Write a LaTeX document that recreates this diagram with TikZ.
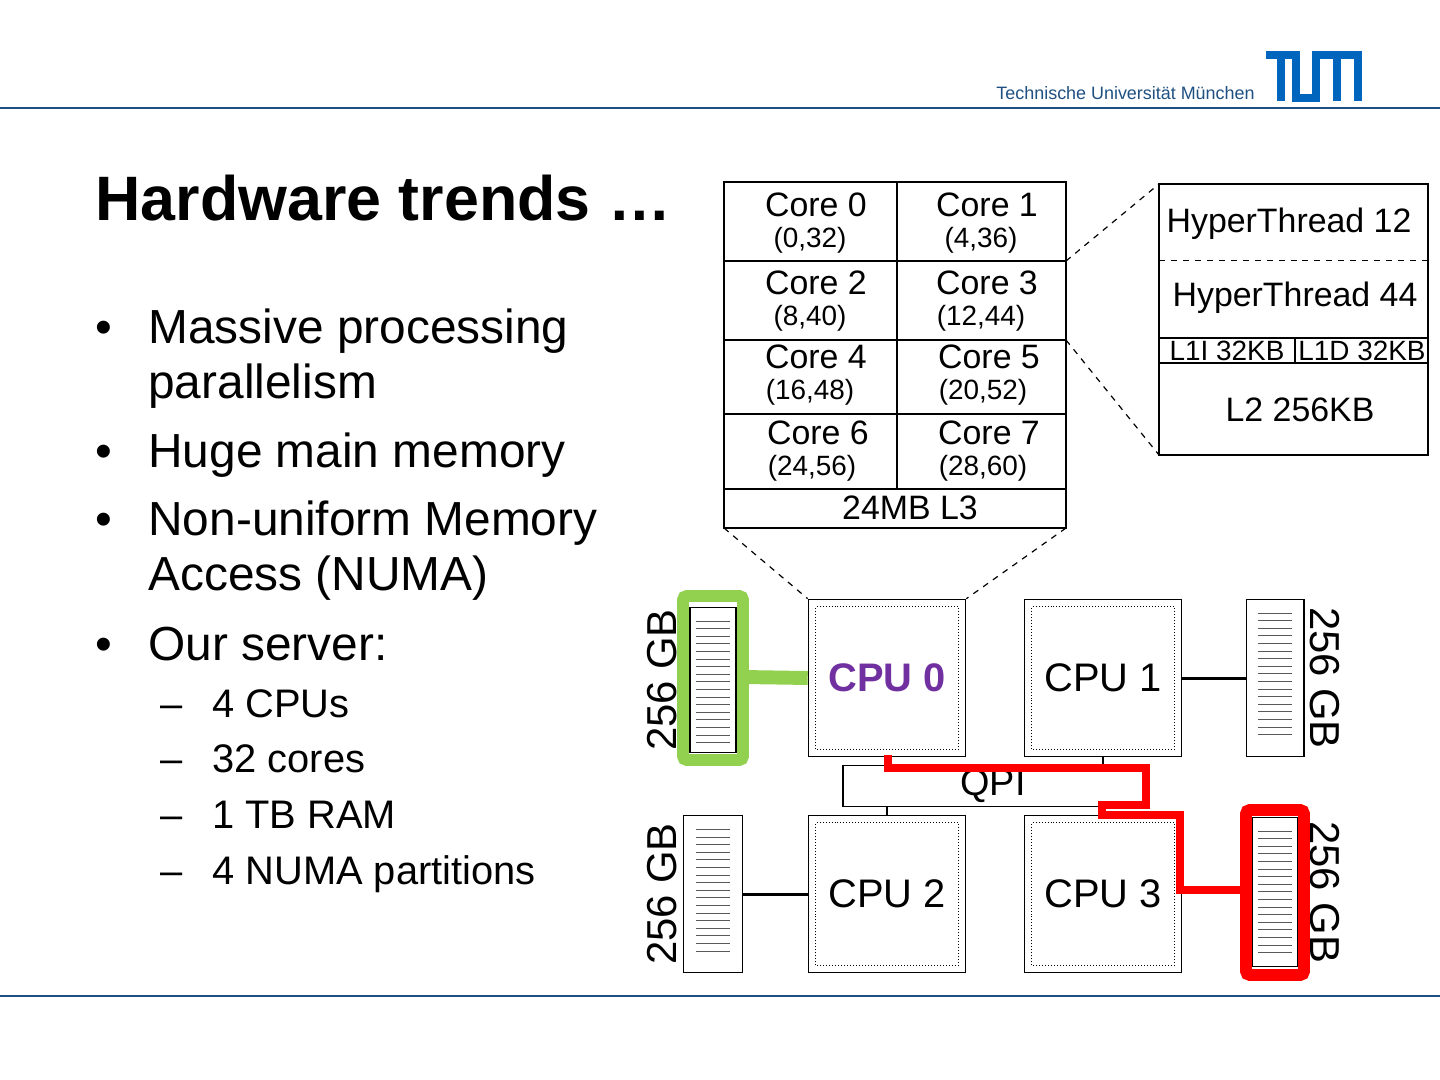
\documentclass[tikz,border=0pt]{standalone}
\usepackage{fontspec}
\setmainfont{Liberation Sans}
\usetikzlibrary{positioning}
\definecolor{tumblue}{RGB}{0,101,189}
\definecolor{lineblue}{RGB}{30,80,130}
\definecolor{memgreen}{RGB}{146,208,80}
\definecolor{cpupurple}{RGB}{112,48,160}
\tikzset{
  cell/.style={font=\fontsize{17}{17}\selectfont, inner sep=0pt},
  small/.style={font=\fontsize{14}{14}\selectfont, inner sep=0pt},
  cpu/.style={draw, line width=0.6pt, minimum width=79pt, minimum height=79pt, inner sep=0pt, font=\fontsize{20}{20}\selectfont},
  mem/.style={draw, line width=0.6pt, inner sep=0pt},
  conn/.style={line width=1.5pt},
  zoomline/.style={dashed, line width=0.6pt},
  gb/.style={font=\fontsize{21}{21}\selectfont, inner sep=0pt},
  bullet/.style={anchor=base west, inner sep=0pt, font=\fontsize{24}{24}\selectfont},
  sub/.style={anchor=base west, inner sep=0pt, font=\fontsize{20}{20}\selectfont},
}
\begin{document}
\begin{tikzpicture}[x=0.0176389cm, y=-0.0176389cm]
\useasboundingbox (0,0) rectangle (1440,1080);
% frame of the slide
\draw[lineblue, line width=1pt] (0,108) -- (1440,108);
\draw[lineblue, line width=1pt] (0,996) -- (1440,996);
\node[anchor=base east, inner sep=0pt, text=lineblue, font=\fontsize{9}{9}\selectfont] (uni) at (1255,100) {Technische Universität München};
\draw[tumblue, line width=4pt] (1266,55) -- (1296,55) -- (1296,98) -- (1316,98) -- (1316,55) -- (1358,55) -- (1358,101)
  (1281,55) -- (1281,101) (1337,55) -- (1337,101);
\node[anchor=base west, inner sep=0pt, font=\bfseries\fontsize{31.5}{31.5}\selectfont] (title) at (95,220) {Hardware trends …};
% bullets
\def\bx{95}
\foreach \y/\t in {343/Massive processing, 467/Huge main memory, 535/Non-uniform Memory, 660/Our server:} {
  \node[bullet] at (\bx,\y) {•};
  \node[bullet] at (148,\y) {\t};
}
\node[bullet] (par) at (148,398) {parallelism};
\node[bullet] (acc) at (148,590) {Access (NUMA)};
\foreach \y/\t in {717/4 CPUs, 772/32 cores, 828/1 TB RAM, 884/4 NUMA partitions} {
  \node[sub] at (160,\y) {–};
  \node[sub] at (212,\y) {\t};
}
% socket with cores
\draw[line width=0.6pt] (724,182) rectangle (1066,528);
\draw[line width=0.6pt] (897,182) -- (897,489);
\foreach \y in {261,340,414,489} \draw[line width=0.6pt] (724,\y) -- (1066,\y);
\foreach \i/\x/\y/\h in {0/816/205/{(0,32)}, 1/987/205/{(4,36)}, 2/816/283/{(8,40)}, 3/987/283/{(12,44)},
                        4/816/357/{(16,48)}, 5/989/357/{(20,52)}, 6/818/433/{(24,56)}, 7/989/433/{(28,60)}} {
  \node[cell] (core\i) at (\x,\y) {Core \i};
  \node[small, below=5pt of core\i, xshift=-3pt] (ht\i) {\h};
}
\node[cell] (l3) at (910,508) {24MB L3};
% one core
\draw[line width=0.6pt] (1159,184) rectangle (1428,455);
\draw[dashed, line width=0.4pt] (1159,260) -- (1428,260);
\draw[line width=0.6pt] (1159,338) -- (1428,338) (1159,363) -- (1428,363) (1295,338) -- (1295,363);
\node[cell] (hta) at (1289,224) {HyperThread 12};
\node[cell] (htb) at (1295,298) {HyperThread 44};
\node[small] (l1i) at (1227,351) {L1I 32KB};
\node[small] (l1d) at (1362,351) {L1D 32KB};
\node[cell] (l2) at (1300,410) {L2 256KB};
\draw[zoomline] (1066,261) -- (1159,184);
\draw[zoomline] (1066,340) -- (1159,455);
% cpus
\node[cpu, text=cpupurple, font=\bfseries\fontsize{20}{20}\selectfont] (cpu0) at (887,678) {CPU 0};
\node[cpu] (cpu1) at (1103,678) {CPU 1};
\node[cpu] (cpu2) at (887,894) {CPU 2};
\node[cpu] (cpu3) at (1103,894) {CPU 3};
\foreach \c in {cpu0,cpu1,cpu2,cpu3}
  \draw[densely dotted, line width=0.5pt] ([shift={(8,-8)}]\c.south west) rectangle ([shift={(-8,8)}]\c.north east);
\draw[zoomline] (724,528) -- (cpu0.north west);
\draw[zoomline] (1066,528) -- (cpu0.north east);
\node[draw, line width=0.6pt, minimum width=150.5pt, minimum height=20.5pt, inner sep=0pt, font=\fontsize{19}{19}\selectfont] (qpi) at (993,786) {QPI};
\foreach \x in {887,1103} {
  \draw[line width=1pt] (\x,757) -- (\x,766);
  \draw[line width=1pt] (\x,807) -- (\x,816);
}
% memory
\foreach \n/\x/\y/\w/\hh in {m0/713/680/46/146, m1/1275/678/58/158, m2/713/894/60/157, m3/1275/892/46/150} {
  \node[mem, minimum width=\w*0.5pt, minimum height=\hh*0.5pt] (\n) at (\x,\y) {};
  \foreach \k in {0,...,16}
    \draw[gray!70!black, line width=0.5pt] ([shift={(-17,-\hh/2+14+\k*7.6)}]\n.center) -- ++(34,0);
}
\node[gb, rotate=90] (g0) at (662,680) {256 GB};
\node[gb, rotate=-90] (g1) at (1325,678) {256 GB};
\node[gb, rotate=90] (g2) at (662,894) {256 GB};
\node[gb, rotate=-90] (g3) at (1325,892) {256 GB};
% connectors
\draw[conn] (cpu1.east) -- (m1.west);
\draw[conn] (cpu2.west) -- (m2.east);
\draw[memgreen, line width=6pt, rounded corners=2pt] (683,596) rectangle (743,760);
\draw[memgreen, line width=7pt] (743,677) -- (cpu0.west);
\draw[red, line width=6pt, rounded corners=2pt] (1246,810) rectangle (1304,975);
\draw[red, line width=4pt] (888,755) -- (888,768) -- (1146,768) -- (1146,805) -- (1102,805) -- (1102,815) -- (1180,815) -- (1180,890) -- (1246,890);
\end{tikzpicture}
\end{document}
